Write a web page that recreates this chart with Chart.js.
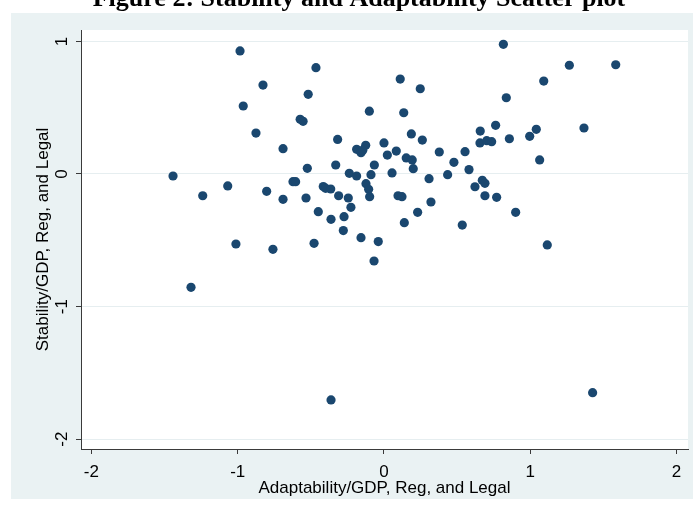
<!DOCTYPE html>
<html><head><meta charset="utf-8">
<script src="https://cdn.jsdelivr.net/npm/chart.js@4/dist/chart.umd.min.js"></script>
<style>
html,body{margin:0;padding:0;background:#fff;overflow:hidden;width:693px;height:509px;}
#wrap{position:absolute;left:0;top:-20px;width:693px;height:529px;}
</style></head><body>
<div id="wrap"><canvas id="c" width="693" height="529"></canvas></div>
<script>
const chartTitle = "Figure 2: Stability and Adaptability Scatter plot";
const xAxisTitle = "Adaptability/GDP, Reg, and Legal";
const yAxisTitle = "Stability/GDP, Reg, and Legal";
const xTicks = [-2, -1, 0, 1, 2];
const yTicks = [-2, -1, 0, 1];

const adaptability = [
 -0.984,-0.827,-0.962,-0.465,-0.518,-0.875,-0.573,-0.553,-0.690,-1.442,
 -1.239,-1.068,-0.802,-0.690,-0.622,-0.604,-0.533,-0.524,-0.449,-0.415,
 -0.399,-0.364,-0.362,-0.330,-0.317,-0.310,-0.273,-0.278,-0.244,-0.226,
 -0.237,-0.187,-0.187,-0.157,-0.125,-0.145,-0.100,-0.066,-0.089,-0.123,
 -0.105,-0.098,-0.157,-0.039,-0.068,-0.759,-0.478,-1.319,-1.012,-0.362,
  0.139, 0.535, 1.116, 1.426, 0.816, 1.267, 1.584, 1.092, 0.836, 0.111,
  0.248, 0.135, 0.187, 0.262, 0.000, 0.023, 0.084, 0.152, 0.193, 0.200,
  0.055, 0.308, 0.378, 0.435, 0.478, 0.554, 0.581, 0.622, 0.672, 0.690,
  0.690, 0.770, 0.900, 0.658, 0.656, 0.702, 0.736, 0.763, 0.857, 0.996,
  1.041, 1.064, 1.367, 0.096, 0.123, 0.321, 0.230
];
const stability = [
  0.928, 0.671, 0.513, 0.802, 0.601, 0.309, 0.412, 0.397, 0.191,-0.015,
 -0.164,-0.090,-0.131,-0.191,-0.058,-0.058,-0.181, 0.043,-0.284,-0.095,
 -0.108,-0.113,-0.342, 0.068, 0.261,-0.164,-0.322,-0.427,-0.181,-0.251,
  0.005,-0.015, 0.186, 0.161, 0.216, 0.180, 0.474, 0.068,-0.005,-0.073,
 -0.115,-0.171,-0.480,-0.510,-0.656,-0.568,-0.523,-0.855,-0.528,-1.704,
 -0.367,-0.385,-0.535,-1.649, 0.978, 0.820, 0.824, 0.701, 0.575, 0.716,
  0.643, 0.462, 0.302, 0.256, 0.234, 0.143, 0.173, 0.121, 0.106, 0.040,
  0.008,-0.035, 0.166,-0.005, 0.088, 0.168, 0.033,-0.096,-0.048,-0.070,
 -0.164,-0.176,-0.289, 0.324, 0.234, 0.251, 0.244, 0.367, 0.266, 0.284,
  0.337, 0.106, 0.347,-0.164,-0.171,-0.211,-0.289
];

const points = adaptability.map((x, i) => ({x: x, y: stability[i]}));

const AXIS_FONT = {family: "'Liberation Sans', Arial, sans-serif", size: 17};
const NAVY = '#1a476f';
const AXIS_COLOR = '#3a3a3a';

const backdrop = {
  id: 'backdrop',
  beforeDraw(chart) {
    const {ctx, chartArea: a} = chart;
    ctx.save();
    ctx.fillStyle = '#ffffff';
    ctx.fillRect(0, 0, chart.width, chart.height);
    ctx.fillStyle = '#eaf2f3';
    ctx.fillRect(11, 33, chart.width - 11, 486);
    ctx.fillStyle = '#ffffff';
    ctx.fillRect(a.left, a.top, a.right - a.left, a.bottom - a.top);
    ctx.fillStyle = '#000';
    ctx.font = "bold 26px 'Liberation Serif', 'Times New Roman', serif";
    ctx.textAlign = 'center';
    ctx.textBaseline = 'alphabetic';
    ctx.fillText(chartTitle, 359, 26);
    ctx.restore();
  }
};

new Chart(document.getElementById('c'), {
  type: 'scatter',
  data: {
    datasets: [{
      data: points,
      backgroundColor: NAVY,
      borderColor: NAVY,
      borderWidth: 0,
      pointRadius: 4.6,
      pointHoverRadius: 4.6
    }]
  },
  options: {
    responsive: false,
    animation: false,
    devicePixelRatio: 1,
    layout: {padding: {left: 0, right: 5, top: 50, bottom: 0}},
    plugins: {legend: {display: false}, tooltip: {enabled: false}, title: {display: false}},
    scales: {
      x: {
        type: 'linear',
        min: -2.071, max: 2.078,
        afterBuildTicks: s => { s.ticks = xTicks.map(v => ({value: v})); },
        afterFit: s => { s.height = 60; },
        grid: {drawOnChartArea: false, drawTicks: true, tickLength: 5, tickColor: AXIS_COLOR},
        border: {display: true, color: AXIS_COLOR, width: 1},
        ticks: {font: AXIS_FONT, color: '#000', padding: 8, maxRotation: 0, minRotation: 0},
        title: {display: true, text: xAxisTitle, font: AXIS_FONT, color: '#000', padding: {top: 0, bottom: 10}}
      },
      y: {
        type: 'linear',
        min: -2.074, max: 1.086,
        afterBuildTicks: s => { s.ticks = yTicks.map(v => ({value: v})); },
        afterFit: s => { s.width = 81; },
        grid: {drawOnChartArea: true, color: '#e6eef0', lineWidth: 1, drawTicks: true, tickLength: 5, tickColor: AXIS_COLOR},
        border: {display: true, color: AXIS_COLOR, width: 1},
        ticks: {font: AXIS_FONT, color: '#000', padding: 6, minRotation: 90, maxRotation: 90, crossAlign: 'center'},
        title: {display: true, text: yAxisTitle, font: AXIS_FONT, color: '#000', padding: {top: 33, bottom: 0}}
      }
    }
  },
  plugins: [backdrop]
});
</script>
</body></html>
